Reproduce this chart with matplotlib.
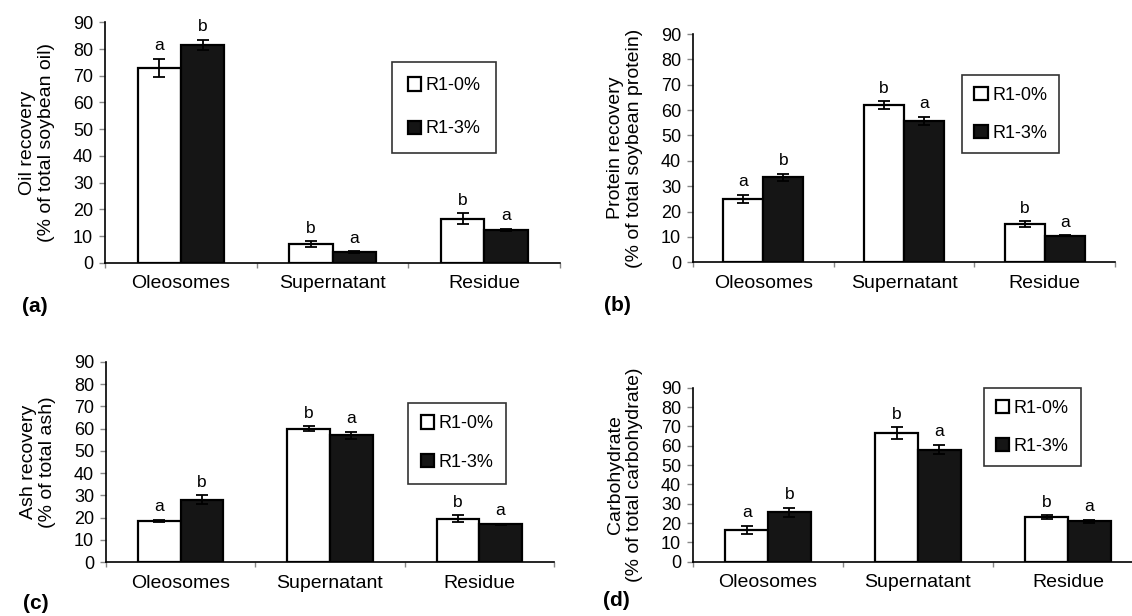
import matplotlib
matplotlib.use("Agg")
import matplotlib.pyplot as plt
import numpy as np

plt.rcParams['font.family'] = ['Liberation Sans', 'DejaVu Sans']

fractions = ["Oleosomes", "Supernatant", "Residue"]
series = ["R1-0%", "R1-3%"]

oil_0 = [73.0, 7.0, 16.5]
oil_0_err = [3.3, 1.0, 2.0]
oil_3 = [81.5, 4.0, 12.3]
oil_3_err = [2.0, 0.3, 0.4]
oil_letters = [("a", "b"), ("b", "a"), ("b", "a")]

protein_0 = [25.0, 62.0, 15.0]
protein_0_err = [1.6, 1.4, 1.2]
protein_3 = [33.5, 55.8, 10.5]
protein_3_err = [1.3, 1.6, 0.2]
protein_letters = [("a", "b"), ("b", "a"), ("b", "a")]

ash_0 = [18.5, 60.0, 19.5]
ash_0_err = [0.6, 1.1, 1.6]
ash_3 = [28.0, 57.0, 17.0]
ash_3_err = [2.0, 1.6, 0.4]
ash_letters = [("a", "b"), ("b", "a"), ("b", "a")]

carb_0 = [16.5, 66.5, 23.0]
carb_0_err = [2.0, 3.0, 1.0]
carb_3 = [25.5, 58.0, 21.0]
carb_3_err = [2.3, 2.4, 0.8]
carb_letters = [("a", "b"), ("b", "a"), ("b", "a")]

yticks = list(range(0, 100, 10))

panels = [
    # axes rect, y label, data, legend anchor, legend spacing, panel tag, tag position
    ([0.0928, 0.5735, 0.402, 0.3903], "Oil recovery\n(% of total soybean oil)",
     (oil_0, oil_0_err, oil_3, oil_3_err, oil_letters), (0.631, 0.835), (1.45, 0.85), "(a)", (0.019, 0.494)),
    ([0.6122, 0.5742, 0.3728, 0.3706], "Protein recovery\n(% of total soybean protein)",
     (protein_0, protein_0_err, protein_3, protein_3_err, protein_letters), (0.638, 0.82), (1.15, 0.65), "(b)", (0.5336, 0.495)),
    ([0.0936, 0.0872, 0.3958, 0.3256], "Ash recovery\n(% of total ash)",
     (ash_0, ash_0_err, ash_3, ash_3_err, ash_letters), (0.674, 0.796), (1.2, 0.7), "(c)", (0.0203, 0.0114)),
    ([0.6122, 0.0881, 0.3975, 0.2825], "Carbohydrate\n(% of total carbohydrate)",
     (carb_0, carb_0_err, carb_3, carb_3_err, carb_letters), (0.647, 0.997), (1.15, 0.65), "(d)", (0.533, 0.016)),
]

fig = plt.figure(figsize=(11.32, 6.16), dpi=100)
x = np.arange(len(fractions)) + 0.5
w = 0.285
for rect, ylabel, (v0, e0, v3, e3, letters), leg_pos, (lsp, bpad), tag, tag_xy in panels:
    ax = fig.add_axes(rect)
    ax.bar(x - w / 2, v0, w, color="white", edgecolor="black", linewidth=1.6, label=series[0])
    ax.bar(x + w / 2, v3, w, color="#151515", edgecolor="black", linewidth=1.6, label=series[1])
    ax.errorbar(x - w / 2, v0, yerr=e0, fmt="none", ecolor="black", elinewidth=1.3, capsize=4, capthick=1.3)
    ax.errorbar(x + w / 2, v3, yerr=e3, fmt="none", ecolor="black", elinewidth=1.3, capsize=4, capthick=1.3)
    for i, (l0, l3) in enumerate(letters):
        ax.annotate(l0, (x[i] - w / 2, v0[i] + e0[i]), xytext=(0, 4), textcoords="offset points",
                    ha="center", va="bottom", fontsize=12.5)
        ax.annotate(l3, (x[i] + w / 2, v3[i] + e3[i]), xytext=(0, 4), textcoords="offset points",
                    ha="center", va="bottom", fontsize=12.5)
    ax.set_xlim(0, 3)
    ax.set_ylim(0, 90)
    ax.set_yticks(yticks)
    ax.tick_params(axis="y", labelsize=13, length=4.5, width=1, color="#888888", pad=4)
    ax.set_xticks(x)
    ax.set_xticklabels(fractions, fontsize=14)
    ax.set_xticks([0, 1, 2, 3], minor=True)
    ax.tick_params(axis="x", which="major", length=0, pad=9)
    ax.tick_params(axis="x", which="minor", length=3.5, width=1, color="#888888")
    ax.spines[["top", "right"]].set_visible(False)
    ax.spines["left"].set_linewidth(1.2)
    ax.spines["bottom"].set_linewidth(1.2)
    ax.set_ylabel(ylabel, fontsize=14, labelpad=13, linespacing=1.15)
    leg = ax.legend(loc="upper left", bbox_to_anchor=leg_pos, fontsize=13, frameon=True,
                    fancybox=False, edgecolor="black", handlelength=0.75, handleheight=0.75,
                    handletextpad=0.25, labelspacing=lsp, borderpad=bpad, borderaxespad=0)
    leg.get_frame().set_linewidth(1.2)
    fig.text(tag_xy[0], tag_xy[1], tag, fontsize=15, fontweight="bold", va="baseline")

fig.savefig("out.png", dpi=100)
